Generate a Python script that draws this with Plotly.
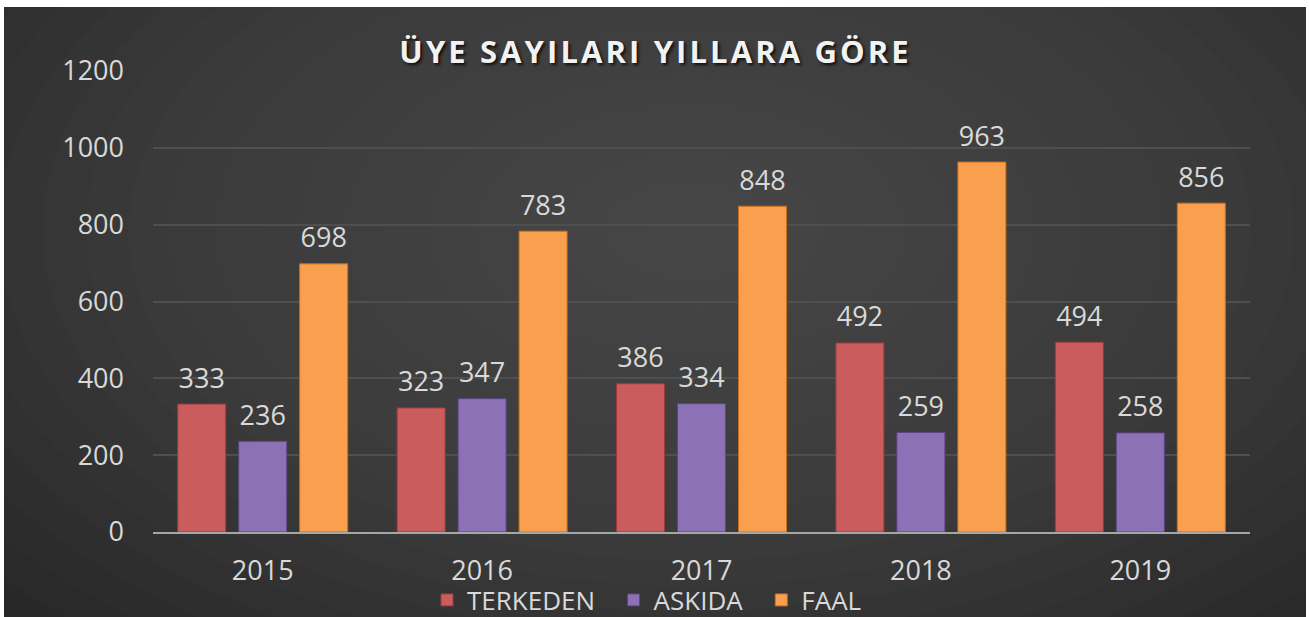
import plotly.graph_objects as go

years = ["2015", "2016", "2017", "2018", "2019"]
terkeden = [333, 323, 386, 492, 494]
askida = [236, 347, 334, 259, 258]
faal = [698, 783, 848, 963, 856]

series_names = ["TERKEDEN", "ASKIDA", "FAAL"]
series_values = [terkeden, askida, faal]
series_colors = ["#ca5c5d", "#8d71b6", "#fa9f4e"]
series_lines = ["#9e3a3b", "#5e4585", "#c8701f"]

title_text = "ÜYE SAYILARI YILLARA GÖRE"

W, H = 1309, 617
L, R, T, B = 153, 59, 71, 85
PW, PH = W - L - R, H - T - B


def px(x):
    return (x - L) / PW


def py(y):
    return (H - B - y) / PH


fig = go.Figure()

n_series = len(series_names)
for i, (name, vals, col, lc) in enumerate(zip(series_names, series_values, series_colors, series_lines)):
    legend_name = name + ("\u00a0\u00a0" if i < n_series - 1 else "")
    fig.add_trace(go.Bar(
        x=years, y=vals, name=legend_name, offsetgroup=str(i),
        marker=dict(color=col, line=dict(color=lc, width=1)),
        hovertemplate=name + ": %{y}<extra></extra>",
    ))

for i, (name, vals) in enumerate(zip(series_names, series_values)):
    fig.add_trace(go.Scatter(
        x=years, y=vals, mode="markers+text", offsetgroup=str(i),
        text=[str(v) for v in vals], textposition="top center",
        marker=dict(size=14, opacity=0),
        textfont=dict(family="Open Sans", size=27, color="#d9d9d9"),
        showlegend=False, hoverinfo="skip", cliponaxis=False,
    ))

# radial-ish background glow
shapes = []
cx, cy = 690, 230
N = 22
for k in range(N):
    f = 1 - k / N
    rx, ry = 950 * f, 560 * f
    shapes.append(dict(type="circle", xref="paper", yref="paper", layer="below",
                       x0=px(cx - rx), x1=px(cx + rx), y0=py(cy + ry), y1=py(cy - ry),
                       fillcolor="rgba(100,100,100,0.034)", line=dict(width=0)))
# thin white page border (top, left, right)
for (a, b, c, d) in [(-5, W + 5, -5, 7), (-5, 4, -5, H + 5), (1306, W + 5, -5, H + 5)]:
    shapes.append(dict(type="rect", xref="paper", yref="paper", layer="above",
                       x0=px(a), x1=px(b), y0=py(d), y1=py(c),
                       fillcolor="white", line=dict(width=0)))

spaced_title = "\u200a".join(title_text)

fig.update_layout(
    width=W, height=H,
    margin=dict(l=L, r=R, t=T, b=B, autoexpand=False),
    paper_bgcolor="#262626",
    plot_bgcolor="rgba(0,0,0,0)",
    barmode="group", bargap=0.166, bargroupgap=0.213,
    scattermode="group", scattergap=0.166,
    shapes=shapes,
    title=dict(text="<b>" + spaced_title + "</b>", x=654 / W, xanchor="center",
               y=1 - 52 / H, yanchor="middle",
               font=dict(family="Open Sans", size=31, color="#f2f2f2",
                         shadow="2px 2px 3px rgba(0,0,0,0.75)")),
    font=dict(family="Open Sans", color="#d9d9d9"),
    legend=dict(orientation="h", x=647 / W, xref="container", xanchor="center",
                y=(H - 600) / H, yref="container", yanchor="middle",
                font=dict(family="Open Sans", size=26, color="#d9d9d9"),
                bgcolor="rgba(0,0,0,0)", itemwidth=30, traceorder="normal"),
    xaxis=dict(showgrid=False, showline=True, linecolor="#a6a6a6", linewidth=2,
               tickfont=dict(family="Open Sans", size=27, color="#d9d9d9"),
               ticks="", ticklabelstandoff=14, automargin=False),
    yaxis=dict(range=[0, 1200], dtick=200, showgrid=True, gridcolor="#4f4f4f", gridwidth=1.5,
               zeroline=False, showline=False,
               tickfont=dict(family="Open Sans", size=27, color="#d9d9d9"),
               ticks="", ticklabelstandoff=28, automargin=False),
    showlegend=True,
)

fig.write_html("out.html", config={"displayModeBar": False},
               post_script="document.body.style.margin='0';document.body.style.overflow='hidden';")
